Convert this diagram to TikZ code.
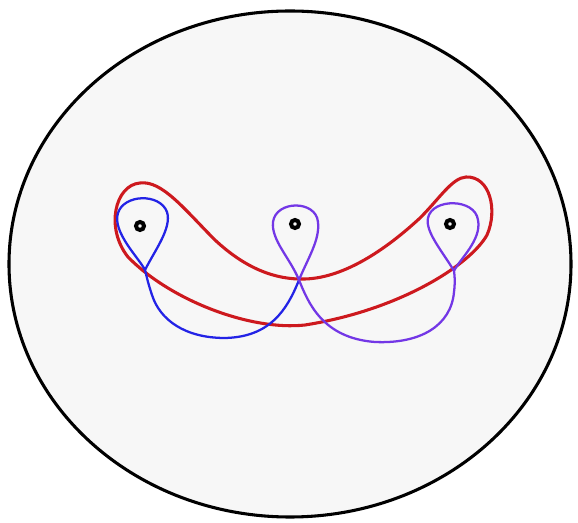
\documentclass[tikz,border=0pt]{standalone}
\usepackage{xcolor}
\usepackage{tikz}
\usetikzlibrary{positioning, calc}

\definecolor{diskfill}{RGB}{247,247,247}
\definecolor{curvered}{RGB}{205,25,30}
\definecolor{curveblue}{RGB}{35,35,230}
\definecolor{curveviolet}{RGB}{115,55,230}

\begin{document}
\begin{tikzpicture}[x=0.75pt, y=-0.75pt,
    puncture/.style={circle, draw=black, fill=diskfill, line width=3pt, minimum size=6pt, inner sep=0pt},
    redloop/.style={draw=curvered, line width=2.3pt},
    blueloop/.style={draw=curveblue, line width=1.7pt},
    violetloop/.style={draw=curveviolet, line width=1.7pt}]
    \useasboundingbox (0,0) rectangle (578,523);
    % disk
    \draw[fill=diskfill, line width=2.3pt] (290,264) ellipse (281 and 253);
    % punctures
    \node[puncture] (p1) at (140,226) {};
    \node[puncture] (p2) at (295,224) {};
    \node[puncture] (p3) at (450,224) {};
    \coordinate (X) at (299,280);
    \coordinate (tipL) at (145,270);
    \coordinate (tipR) at (454,271);
    % red curve around all three
    \draw[redloop] (140,183) .. controls (162,180) and (185,210) .. (215,240)
        .. controls (245,268) and (275,280) .. (305,279)
        .. controls (340,278) and (380,255) .. (420,218)
        .. controls (440,198) and (452,178) .. (466,177)
        .. controls (490,176) and (498,210) .. (487,235)
        .. controls (470,265) and (400,310) .. (305,325)
        .. controls (250,331) and (170,300) .. (128,257)
        .. controls (105,228) and (115,185) .. (140,183) -- cycle;
    % blue part
    \draw[blueloop] (X) .. controls (287,310) and (270,337) .. (225,338)
        .. controls (185,338) and (160,320) .. (152,295)
        .. controls (148,283) and (147,278) .. (tipL)
        .. controls (139,258) and (112,232) .. (118,213)
        .. controls (124,194) and (160,193) .. (167,212)
        .. controls (172,228) and (155,250) .. (tipL);
    % violet part
    \draw[violetloop] (X) .. controls (308,258) and (320,240) .. (318,222)
        .. controls (316,200) and (276,200) .. (273,222)
        .. controls (271,240) and (290,258) .. (X)
        .. controls (308,302) and (322,338) .. (375,342)
        .. controls (420,344) and (451,326) .. (454,292)
        .. controls (455,284) and (455,278) .. (tipR)
        .. controls (459,260) and (482,240) .. (478,220)
        .. controls (475,198) and (432,198) .. (428,218)
        .. controls (425,232) and (443,252) .. (tipR);
\end{tikzpicture}
\end{document}
